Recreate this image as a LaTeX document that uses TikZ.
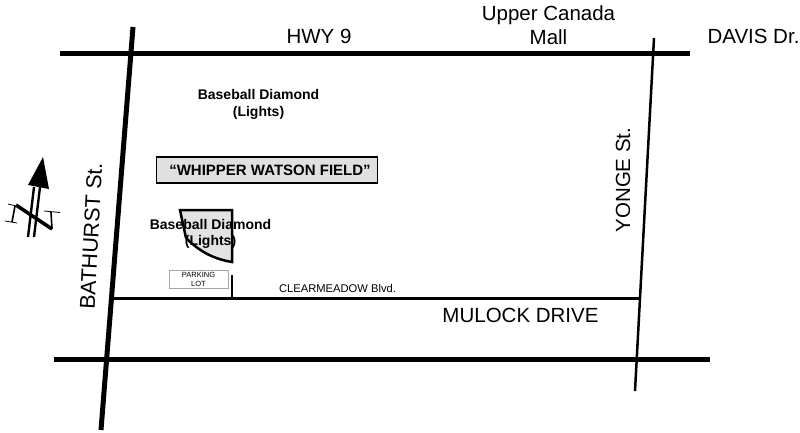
\documentclass[tikz,border=0pt]{standalone}
\usepackage{fontspec}
\setmainfont{Liberation Sans}
\usepackage{tikz}
\begin{document}
\begin{tikzpicture}[x=1pt,y=-1pt,
  road/.style={draw=black,line width=5pt},
  street/.style={draw=black,line width=2.5pt},
  big/.style={inner sep=0pt,font=\fontsize{20.5}{24}\selectfont,align=center},
  bold/.style={inner sep=0pt,font=\fontsize{14}{16.5}\selectfont\bfseries,align=center},
  tiny/.style={inner sep=0pt,font=\fontsize{7.5}{9}\selectfont,align=center},
  ]
\useasboundingbox (0,0) rectangle (800,433);
\fill[white] (0,0) rectangle (800,433);
% road ends
\coordinate (hw) at (60,54); \coordinate (he) at (690,54);
\coordinate (bn) at (133,27); \coordinate (bs) at (101,430);
\coordinate (yn) at (654,38); \coordinate (ys) at (635,391);
\coordinate (mw) at (113,298.5); \coordinate (me) at (640,298.5);
\coordinate (sw) at (54,359); \coordinate (se) at (710,359);
\coordinate (pt) at (232,275); \coordinate (pb) at (232,298);
\draw[road] (hw) -- (he);
\draw[road] (sw) -- (se);
\draw[road] (bn) -- (bs);
\draw[street] (yn) -- (ys);
\draw[street] (mw) -- (me);
\draw[street] (pt) -- (pb);
% diamond
\fill[black!11] (180,210) -- (232,210) -- (232,262) .. controls (214,259) and (200,252) .. (186,238) -- cycle;
\draw[line width=2.5pt] (186,238) -- (180,210) -- (232,210) -- (232,262) .. controls (214,259) and (200,252) .. (186,238);
% labels
\node[big] (hwy) at (319,36) {HWY 9};
\node[big] (mall) at (548.5,25.5) {Upper Canada\\Mall};
\node[big] (davis) at (753.5,36) {DAVIS Dr.};
\node[big] (mulock) at (520.5,315) {MULOCK DRIVE};
\node[inner sep=0pt,font=\fontsize{21.5}{24}\selectfont,rotate=87] (bath) at (91,236) {BATHURST St.};
\node[big,rotate=90] (yonge) at (623,180) {YONGE St.};
\node[bold] (bd1) at (258.5,104.5) {Baseball Diamond\\(Lights)};
\node[bold] (bd2) at (210.5,234) {Baseball Diamond\\(Lights)};
\node[draw=black,line width=1.5pt,fill=black!12,minimum width=221pt,minimum height=26pt,inner sep=0pt] (field) at (267,170) {};
\node[inner sep=0pt,font=\fontsize{15}{18}\selectfont\bfseries] (fieldtext) at (270,170) {“WHIPPER WATSON FIELD”};
\node[draw=black!35,line width=0.7pt,fill=white,minimum width=59pt,minimum height=18pt,tiny] (park) at (198.5,279) {PARKING\\LOT};
\node[inner sep=0pt,font=\fontsize{11.2}{13}\selectfont] (clear) at (337.5,288) {CLEARMEADOW Blvd.};
% north arrow
\coordinate (tip) at (43,157);
\coordinate (al) at (28,185);
\coordinate (ar) at (49,189);
\fill (tip) -- (ar) -- (al) -- cycle;
\draw[line width=2.4pt] (34,187) -- (28,237);
\draw[line width=2.4pt] (40,187) -- (34,237);
\draw[line width=3.5pt] (16,205) -- (52,229);
\draw[line width=1.6pt] (15,206) -- (12,222);
\draw[line width=0.8pt] (8,204) -- (20,207);
\draw[line width=0.8pt] (5,221) -- (17,223);
\draw[line width=1.6pt] (52,229) -- (51,212);
\draw[line width=0.8pt] (44,211) -- (60,212.5);
\end{tikzpicture}
\end{document}
